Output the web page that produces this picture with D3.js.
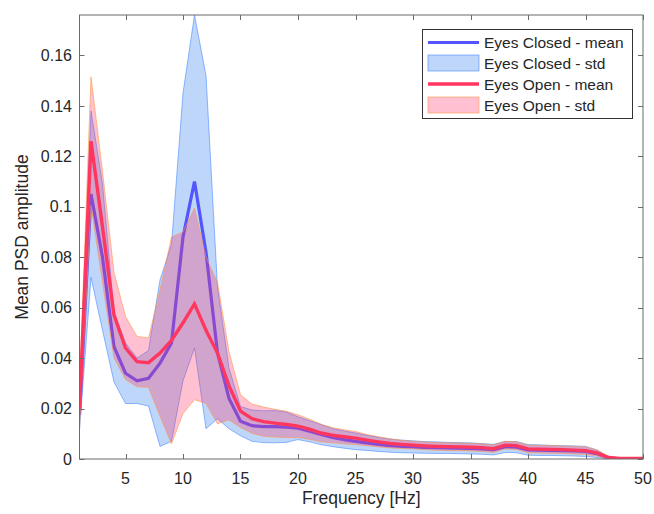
<!DOCTYPE html>
<html>
<head>
<meta charset="utf-8">
<script src="https://cdn.jsdelivr.net/npm/d3@7"></script>
<style>
  html, body { margin: 0; padding: 0; background: #fff; }
  svg { display: block; font-family: "Liberation Sans", Arial, Helvetica, sans-serif; }
</style>
</head>
<body>
<svg id="chart" width="654" height="514"></svg>
<script>
// Frequency bins (Hz)
const freqs = [1,2,3,4,5,6,7,8,9,10,11,12,13,14,15,16,17,18,19,20,
               21,22,23,24,25,26,27,28,29,30,31,32,33,34,35,36,37,38,39,40,
               41,42,43,44,45,46,47,48,49,50];

// Eyes closed: mean PSD and standard deviation per bin
const closedMean = [0.0175,0.105,0.080,0.0445,0.034,0.031,0.032,0.038,0.046,0.088,
                    0.110,0.082,0.042,0.024,0.015,0.0132,0.0128,0.0128,0.0126,0.0122,
                    0.0110,0.0097,0.0085,0.0077,0.0070,0.0064,0.0058,0.0053,0.0050,0.0048,
                    0.0046,0.0045,0.0044,0.0043,0.0042,0.0040,0.0037,0.0048,0.0047,0.0036,
                    0.0035,0.0034,0.0033,0.0032,0.0030,0.0021,0.0004,0.0001,0.0001,0.0001];
const closedStd  = [0.006,0.033,0.029,0.014,0.012,0.009,0.011,0.033,0.039,0.057,
                    0.066,0.070,0.026,0.012,0.0058,0.0062,0.0063,0.0064,0.0060,0.0045,
                    0.0042,0.0040,0.0036,0.0034,0.0033,0.0030,0.0028,0.0026,0.0025,0.0024,
                    0.0023,0.0023,0.0022,0.0022,0.0022,0.0021,0.0021,0.0022,0.0022,0.0021,
                    0.0021,0.0020,0.0020,0.0020,0.0020,0.0015,0.0004,0.0001,0.0001,0.0001];

// Eyes open: mean PSD and standard deviation per bin
const openMean   = [0.020,0.126,0.092,0.057,0.044,0.0386,0.0382,0.042,0.047,0.054,
                    0.0615,0.051,0.042,0.029,0.019,0.0160,0.0148,0.0142,0.0137,0.0130,
                    0.0118,0.0103,0.0094,0.0088,0.0083,0.0075,0.0068,0.0062,0.0058,0.0055,
                    0.0052,0.0050,0.0049,0.0048,0.0047,0.0045,0.0041,0.0055,0.0053,0.0040,
                    0.0039,0.0038,0.0037,0.0035,0.0033,0.0024,0.0006,0.0002,0.0002,0.0002];
const openStd    = [0.008,0.0255,0.022,0.017,0.0125,0.010,0.0098,0.025,0.041,0.036,
                    0.038,0.029,0.028,0.0135,0.0065,0.0058,0.0058,0.0055,0.0052,0.0045,
                    0.0040,0.0035,0.0030,0.0028,0.0026,0.0022,0.0020,0.0018,0.0016,0.0015,
                    0.0015,0.0015,0.0015,0.0015,0.0015,0.0015,0.0015,0.0015,0.0015,0.0015,
                    0.0015,0.0015,0.0015,0.0015,0.0015,0.0012,0.0005,0.0002,0.0002,0.0002];

const xTicks = [5,10,15,20,25,30,35,40,45,50];
const yTicks = [0,0.02,0.04,0.06,0.08,0.1,0.12,0.14,0.16];
const yTickLabels = ["0","0.02","0.04","0.06","0.08","0.1","0.12","0.14","0.16"];
const legendLabels = ["Eyes Closed - mean","Eyes Closed - std","Eyes Open - mean","Eyes Open - std"];

const svg = d3.select("#chart");
const plot = { left: 79.5, right: 643, top: 15, bottom: 459 };

// tight limits, as in the axis settings of the original figure
const yMax = d3.max(freqs, (f, i) => Math.max(closedMean[i] + closedStd[i], openMean[i] + openStd[i]));
const x = d3.scaleLinear().domain([d3.min(freqs), d3.max(freqs)]).range([plot.left, plot.right]);
const y = d3.scaleLinear().domain([0, yMax]).range([plot.bottom, plot.top]);

const colors = {
  closedLine: "rgb(85,85,255)",
  closedFill: "rgb(40,120,240)",
  closedEdge: "rgba(60,130,255,0.55)",
  openLine: "rgb(255,55,95)",
  openFill: "rgb(255,51,102)",
  openEdge: "rgba(255,150,70,0.6)"
};

const defs = svg.append("defs");
defs.append("clipPath").attr("id", "plotClip")
  .append("rect")
  .attr("x", plot.left).attr("y", plot.top - 1)
  .attr("width", plot.right - plot.left).attr("height", plot.bottom - plot.top + 1);

const g = svg.append("g").attr("clip-path", "url(#plotClip)");

const band = (mean, sd) => d3.area()
  .x((d, i) => x(freqs[i]))
  .y0((d, i) => y(mean[i] - sd[i]))
  .y1((d, i) => y(mean[i] + sd[i]))(freqs);

const line = (mean) => d3.line()
  .x((d, i) => x(freqs[i]))
  .y((d, i) => y(mean[i]))(freqs);

// Eyes closed band and mean
g.append("path").attr("d", band(closedMean, closedStd))
  .attr("fill", colors.closedFill).attr("fill-opacity", 0.3)
  .attr("stroke", colors.closedEdge).attr("stroke-width", 1);
g.append("path").attr("d", line(closedMean))
  .attr("fill", "none").attr("stroke", colors.closedLine)
  .attr("stroke-width", 3.2).attr("stroke-linejoin", "miter");

// Eyes open band and mean
g.append("path").attr("d", band(openMean, openStd))
  .attr("fill", colors.openFill).attr("fill-opacity", 0.3)
  .attr("stroke", colors.openEdge).attr("stroke-width", 1);
g.append("path").attr("d", line(openMean))
  .attr("fill", "none").attr("stroke", colors.openLine)
  .attr("stroke-width", 3.4).attr("stroke-linejoin", "miter");

// Axes box with inward ticks on all four sides
const axisColor = "#6b6b6b";
const textColor = "#262626";
const tickLen = 5;

svg.append("rect")
  .attr("x", plot.left).attr("y", plot.top)
  .attr("width", plot.right - plot.left).attr("height", plot.bottom - plot.top)
  .attr("fill", "none").attr("stroke", axisColor).attr("stroke-width", 1);

const xAxisG = svg.append("g");
xTicks.forEach(t => {
  const px = Math.round(x(t)) + 0.5;
  xAxisG.append("line").attr("x1", px).attr("x2", px)
    .attr("y1", plot.bottom).attr("y2", plot.bottom - tickLen).attr("stroke", axisColor);
  xAxisG.append("line").attr("x1", px).attr("x2", px)
    .attr("y1", plot.top).attr("y2", plot.top + tickLen).attr("stroke", axisColor);
  xAxisG.append("text").attr("x", x(t)).attr("y", 484)
    .attr("text-anchor", "middle").attr("font-size", 16).attr("fill", textColor)
    .text(t);
});

const yAxisG = svg.append("g");
yTicks.forEach((t, i) => {
  const py = Math.round(y(t)) + 0.5;
  yAxisG.append("line").attr("x1", plot.left).attr("x2", plot.left + tickLen)
    .attr("y1", py).attr("y2", py).attr("stroke", axisColor);
  yAxisG.append("line").attr("x1", plot.right).attr("x2", plot.right - tickLen)
    .attr("y1", py).attr("y2", py).attr("stroke", axisColor);
  yAxisG.append("text").attr("x", 72).attr("y", y(t) + 5.7)
    .attr("text-anchor", "end").attr("font-size", 16).attr("fill", textColor)
    .text(yTickLabels[i]);
});

svg.append("text").attr("x", (plot.left + plot.right) / 2).attr("y", 504)
  .attr("text-anchor", "middle").attr("font-size", 17.5).attr("fill", textColor)
  .text("Frequency [Hz]");

svg.append("text")
  .attr("transform", `translate(28,${(plot.top + plot.bottom) / 2}) rotate(-90)`)
  .attr("text-anchor", "middle").attr("font-size", 17.5).attr("fill", textColor)
  .text("Mean PSD amplitude");

// Legend
const lg = svg.append("g");
lg.append("rect").attr("x", 422.5).attr("y", 29.5).attr("width", 210).attr("height", 89)
  .attr("fill", "#fff").attr("stroke", "#333").attr("stroke-width", 1);
const rowY = [42.5, 63, 84, 105];
const sx0 = 428, sx1 = 479;
lg.append("line").attr("x1", sx0).attr("x2", sx1).attr("y1", rowY[0]).attr("y2", rowY[0])
  .attr("stroke", colors.closedLine).attr("stroke-width", 3.2);
lg.append("rect").attr("x", sx0).attr("y", rowY[1] - 8).attr("width", sx1 - sx0).attr("height", 16)
  .attr("fill", colors.closedFill).attr("fill-opacity", 0.3)
  .attr("stroke", colors.closedEdge).attr("stroke-width", 1);
lg.append("line").attr("x1", sx0).attr("x2", sx1).attr("y1", rowY[2]).attr("y2", rowY[2])
  .attr("stroke", colors.openLine).attr("stroke-width", 3.4);
lg.append("rect").attr("x", sx0).attr("y", rowY[3] - 8).attr("width", sx1 - sx0).attr("height", 16)
  .attr("fill", colors.openFill).attr("fill-opacity", 0.3)
  .attr("stroke", colors.openEdge).attr("stroke-width", 1);
legendLabels.forEach((lab, i) => {
  lg.append("text").attr("x", 484).attr("y", rowY[i] + 5.5)
    .attr("font-size", 15.5).attr("fill", textColor).text(lab);
});
</script>
</body>
</html>
